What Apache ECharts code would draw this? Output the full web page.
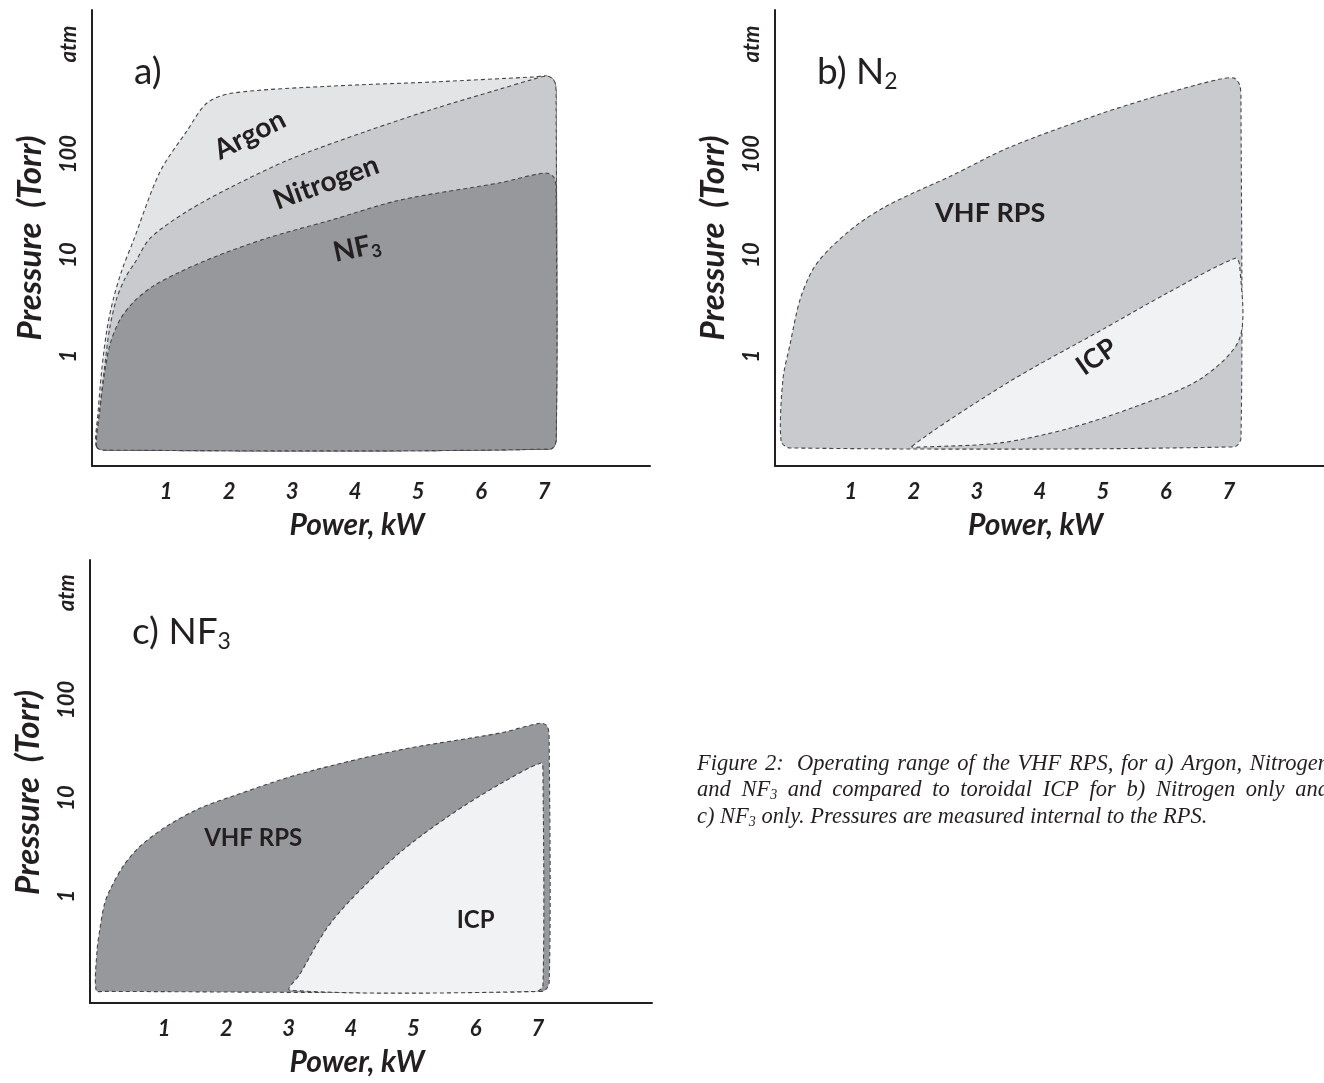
<!DOCTYPE html>
<html>
<head>
<meta charset="utf-8">
<script src="https://cdn.jsdelivr.net/npm/echarts@6/dist/echarts.min.js"></script>
<style>
  html, body { margin: 0; padding: 0; background: #ffffff; }
  #chart { width: 1324px; height: 1083px; }
</style>
</head>
<body>
<div id="chart"></div>
<script>
// Operating envelopes, power in kW and pressure in Torr.
// Each outline is listed clockwise from its lower-left corner.

// a) Argon, Nitrogen and NF3 in the VHF RPS
const argonPower    = [-0.11, -0.08, -0.02, 0.06, 0.16, 0.30, 0.48, 0.90, 1.33, 1.65, 2.06, 3.60, 5.19, 6.83, 7.06, 7.17, 7.19, 7.19, 7.10, 0.03];
const argonPressure = [0.128, 0.27, 0.73, 1.8, 3.6, 7.1, 13.8, 66, 169, 320, 402, 470, 516, 580, 590, 515, 343, 0.147, 0.12, 0.117];

const nitrogenPower    = [-0.10, -0.06, 0.02, 0.10, 0.21, 0.35, 0.51, 0.75, 1.33, 2.06, 2.97, 4.19, 5.24, 6.30, 6.78, 7.06, 7.17, 7.19, 7.19, 7.10, 0.03];
const nitrogenPressure = [0.128, 0.27, 0.73, 1.8, 3.6, 5.9, 8.5, 14.7, 27, 48, 89, 169, 279, 440, 540, 590, 515, 343, 0.147, 0.12, 0.117];

const nf3Power    = [-0.10, -0.05, 0.02, 0.11, 0.27, 0.48, 0.79, 1.22, 1.81, 2.60, 3.60, 4.71, 6.30, 7.02, 7.16, 7.19, 7.19, 7.10, 0.03];
const nf3Pressure = [0.126, 0.29, 0.65, 1.3, 2.3, 3.4, 4.9, 6.8, 9.8, 14.7, 22, 35, 52, 65, 58, 39, 0.147, 0.12, 0.117];

// b) Nitrogen: VHF RPS compared with toroidal ICP
const n2VhfPower    = [-0.11, -0.08, 0.03, 0.19, 0.40, 0.67, 1.10, 1.54, 2.02, 2.57, 3.52, 4.95, 6.02, 6.86, 7.08, 7.17, 7.19, 7.19, 7.08, 0.03];
const n2VhfPressure = [0.144, 0.59, 1.28, 3.6, 7.3, 11.7, 20, 30, 42, 60, 117, 249, 402, 553, 565, 482, 343, 0.154, 0.126, 0.123];

const n2IcpPower    = [1.97, 3.52, 4.95, 6.02, 7.10, 7.17, 7.17, 6.54, 5.48, 4.43, 3.37, 2.17];
const n2IcpPressure = [0.128, 0.56, 1.77, 4.2, 9.3, 7.9, 1.5, 0.59, 0.31, 0.19, 0.138, 0.126];

// c) NF3: VHF RPS compared with toroidal ICP
const nf3VhfPower    = [-0.09, -0.075, -0.03, 0.04, 0.13, 0.34, 0.61, 1.05, 1.58, 2.11, 3.18, 4.79, 6.39, 7.04, 7.15, 7.18, 7.18, 7.07, 0.05];
const nf3VhfPressure = [0.11, 0.28, 0.46, 0.81, 1.15, 2.0, 3.2, 5.2, 7.9, 10.5, 17.6, 31, 46, 58, 54, 39, 0.132, 0.107, 0.107];

const nf3IcpPower    = [3.02, 3.18, 3.59, 3.99, 4.79, 5.59, 6.39, 7.05, 7.08, 7.08, 6.98];
const nf3IcpPressure = [0.11, 0.16, 0.45, 0.91, 2.8, 6.7, 13.9, 22.8, 19.3, 0.124, 0.107];

// Axis ticks
const powerTicks = [1, 2, 3, 4, 5, 6, 7];
const pressureTicks = [1, 10, 100, 1000];
const pressureTickLabels = ['1', '10', '100', 'atm'];

// ---------------------------------------------------------------------------
const INK = '#231f20';
const OUTLINE = '#454547';
const SANS = 'Lato';

const FILL_LIGHT = '#e3e4e6';
const FILL_MID = '#c9cacd';
const FILL_DARK = '#97989c';
const FILL_ICP = '#f1f2f4';

const panels = [
  { grid: { left: 92, top: 10, width: 558, height: 456 }, xMin: -0.175, xMax: 8.68, yNamePad: 0 },
  { grid: { left: 775, top: 10, width: 549, height: 456 }, xMin: -0.206, xMax: 8.508, yNamePad: 0 },
  { grid: { left: 90, top: 560, width: 562, height: 443 }, xMin: -0.188, xMax: 8.83, yNamePad: 22 }
];

function powerLabel(v) {
  const r = Math.round(v);
  return (Math.abs(v - r) < 1e-6 && powerTicks.indexOf(r) >= 0) ? String(r) : '';
}

function pressureLabel(v) {
  for (let i = 0; i < pressureTicks.length; i++) {
    if (Math.abs(Math.log10(v) - Math.log10(pressureTicks[i])) < 1e-6) {
      const t = pressureTickLabels[i];
      return /^\d+$/.test(t) ? '{n|' + t + '}' : '{w|' + t + '}';
    }
  }
  return '';
}

// Closed operating region drawn as one smoothed, dash-outlined polygon
function regionSeries(panel, powers, pressures, fill) {
  const pts = powers.map((p, i) => [p, pressures[i]]);
  return {
    type: 'custom',
    xAxisIndex: panel,
    yAxisIndex: panel,
    data: pts,
    silent: true,
    animation: false,
    renderItem: (params, api) => {
      if (params.dataIndex !== 0) return null;
      return {
        type: 'polygon',
        shape: { points: pts.map(p => api.coord(p)), smooth: 0.3 },
        style: { fill: fill, stroke: OUTLINE, lineWidth: 1.1, lineDash: [4, 3] }
      };
    }
  };
}

// Region name placed at a point in data space
function nameSeries(panel, at, text, angle, size) {
  const rich = {
    m: { fontFamily: SANS, fontWeight: 'bold', fontSize: size, fill: INK, lineHeight: size + 4 },
    s: { fontFamily: SANS, fontWeight: 'bold', fontSize: Math.round(size * 0.65), fill: INK,
         lineHeight: Math.round(size * 0.45), verticalAlign: 'bottom' }
  };
  const parts = text.split('_');
  const rt = parts.length > 1 ? '{m|' + parts[0] + '}{s|' + parts[1] + '}' : '{m|' + text + '}';
  return {
    type: 'custom',
    xAxisIndex: panel,
    yAxisIndex: panel,
    data: [at],
    silent: true,
    animation: false,
    z: 5,
    renderItem: (params, api) => {
      const c = api.coord(at);
      return {
        type: 'text',
        x: c[0], y: c[1],
        rotation: angle * Math.PI / 180,
        style: { text: rt, rich: rich, align: 'center', verticalAlign: 'middle' }
      };
    }
  };
}

const axisTitleStyle = { fontFamily: SANS, fontWeight: 'bold', fontStyle: 'italic', fontSize: 33, color: INK };
const tickStyle = { fontFamily: SANS, fontWeight: 'bold', fontStyle: 'italic', fontSize: 22, color: INK };

const option = {
  backgroundColor: '#ffffff',
  animation: false,
  grid: panels.map(p => Object.assign({ containLabel: false }, p.grid)),
  xAxis: panels.map((p, i) => ({
    type: 'value',
    gridIndex: i,
    min: p.xMin,
    max: p.xMax,
    minInterval: 1,
    maxInterval: 1,
    name: 'Power, kW',
    nameLocation: 'middle',
    nameGap: 44,
    nameTextStyle: Object.assign({ padding: [0, 28, 0, 0] }, axisTitleStyle, { fontSize: 30 }),
    axisLine: { onZero: false, lineStyle: { color: INK, width: 2 } },
    axisTick: { show: false },
    splitLine: { show: false },
    axisLabel: Object.assign({ margin: 15, formatter: powerLabel, showMinLabel: false, showMaxLabel: false }, tickStyle)
  })),
  yAxis: panels.map((p, i) => ({
    type: 'log',
    logBase: 10,
    gridIndex: i,
    min: 0.0815,
    max: 2670,
    name: 'Pressure  (Torr)',
    nameLocation: 'middle',
    nameRotate: 90,
    nameGap: 45,
    nameTextStyle: Object.assign({ padding: [0, p.yNamePad, 0, 0] }, axisTitleStyle),
    axisLine: { onZero: false, lineStyle: { color: INK, width: 2 } },
    axisTick: { show: false },
    splitLine: { show: false },
    axisLabel: Object.assign({
      margin: 12, rotate: 90, formatter: pressureLabel, showMinLabel: false, showMaxLabel: false,
      rich: {
        n: Object.assign({}, tickStyle),
        w: Object.assign({ padding: [0, 0, 0, 18] }, tickStyle)
      }
    }, tickStyle)
  })),
  series: [
    regionSeries(0, argonPower, argonPressure, FILL_LIGHT),
    regionSeries(0, nitrogenPower, nitrogenPressure, FILL_MID),
    regionSeries(0, nf3Power, nf3Pressure, FILL_DARK),
    nameSeries(0, [2.33, 155], 'Argon', 27, 28),
    nameSeries(0, [3.54, 52], 'Nitrogen', 20, 28),
    nameSeries(0, [4.03, 11.7], 'NF_3', 12, 28),

    regionSeries(1, n2VhfPower, n2VhfPressure, FILL_MID),
    regionSeries(1, n2IcpPower, n2IcpPressure, FILL_ICP),
    nameSeries(1, [3.21, 26], 'VHF RPS', 0, 27),
    nameSeries(1, [4.9, 0.98], 'ICP', 35, 27),

    regionSeries(2, nf3VhfPower, nf3VhfPressure, FILL_DARK),
    regionSeries(2, nf3IcpPower, nf3IcpPressure, FILL_ICP),
    nameSeries(2, [2.43, 3.9], 'VHF RPS', 0, 24),
    nameSeries(2, [6.0, 0.57], 'ICP', 0, 24)
  ],
  graphic: []
};

// Panel letters
const titleRich = {
  m: { fontFamily: SANS, fontSize: 37, fill: INK, lineHeight: 42 },
  s: { fontFamily: SANS, fontSize: 23, fill: INK, lineHeight: 14, verticalAlign: 'bottom' }
};
[
  { text: '{m|a)}', x: 134, y: 72 },
  { text: '{m|b) N}{s|2}', x: 817, y: 72 },
  { text: '{m|c) NF}{s|3}', x: 132, y: 632 }
].forEach(t => {
  option.graphic.push({
    type: 'text', x: t.x, y: t.y, silent: true,
    style: { text: t.text, rich: titleRich, align: 'left', verticalAlign: 'middle' }
  });
});

// Figure caption, first two lines justified
const CAP_FONT = 'Liberation Serif';
const CAP_SIZE = 22.5;
const CAP_SUB = 14;
const captionLines = [
  'Figure 2:\u00a0 Operating range of the VHF RPS, for a) Argon, Nitrogen',
  'and NF_3 and compared to toroidal ICP for b) Nitrogen only and',
  'c) NF_3 only. Pressures are measured internal to the RPS.'
];
const capLeft = 697, capWidth = 632, capTop = 764, capStep = 26.5;
const measureCtx = document.createElement('canvas').getContext('2d');
function measure(txt, size) {
  measureCtx.font = 'italic ' + size + 'px "' + CAP_FONT + '"';
  return measureCtx.measureText(txt).width;
}
const capRich = {
  r: { fontFamily: CAP_FONT, fontStyle: 'italic', fontSize: CAP_SIZE, fill: INK, lineHeight: 24 },
  s: { fontFamily: CAP_FONT, fontStyle: 'italic', fontSize: CAP_SUB, fill: INK, lineHeight: 12, verticalAlign: 'bottom' }
};
captionLines.forEach((line, li) => {
  const words = line.split(' ').map(w => {
    const m = w.match(/^(.*?)_(\w)(.*)$/);
    if (m) {
      return {
        text: '{r|' + m[1] + '}{s|' + m[2] + '}' + (m[3] ? '{r|' + m[3] + '}' : ''),
        w: measure(m[1], CAP_SIZE) + measure(m[2], CAP_SUB) + measure(m[3], CAP_SIZE)
      };
    }
    return { text: '{r|' + w + '}', w: measure(w, CAP_SIZE) };
  });
  const total = words.reduce((a, b) => a + b.w, 0);
  const space = measure(' ', CAP_SIZE);
  const justify = li < captionLines.length - 1;
  const gap = justify ? (capWidth - total) / (words.length - 1) : space;
  let x = capLeft;
  words.forEach(wd => {
    option.graphic.push({
      type: 'text', x: x, y: capTop + li * capStep, silent: true,
      style: { text: wd.text, rich: capRich, align: 'left', verticalAlign: 'middle' }
    });
    x += wd.w + gap;
  });
});

const chart = echarts.init(document.getElementById('chart'), null, { renderer: 'canvas' });
chart.setOption(option);
</script>
</body>
</html>
